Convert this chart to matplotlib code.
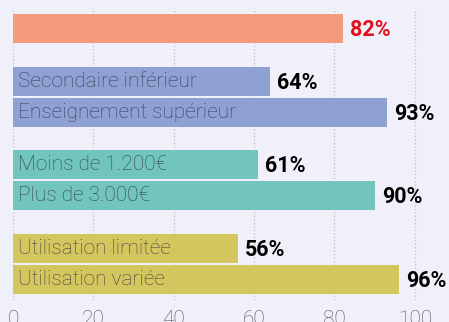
import numpy as np
import matplotlib.pyplot as plt

# groups of bars, top to bottom
labels = [["Ensemble"],
          ["Secondaire inférieur", "Enseignement supérieur"],
          ["Moins de 1.200€", "Plus de 3.000€"],
          ["Utilisation limitée", "Utilisation variée"]]
values = [[82],
          [64, 93],
          [61, 90],
          [56, 96]]
show_name = [False, True, True, True]
group_colors = ["#f39a7b", "#8fa0d3", "#72c5bd", "#d4c65f"]
ticks = [0, 20, 40, 60, 80, 100]

bg = "#f0f0fa"
fig = plt.figure(figsize=(4.49, 3.22), dpi=100, facecolor=bg)
ax = fig.add_axes([13/449, 22/322, 1 - 13/449, 292/322], facecolor=bg)

gap = 1.7   # space between group starts, beyond the bars themselves
y = 0.0
for g, (names, vals) in enumerate(zip(labels, values)):
    for name, v in zip(names, vals):
        ax.barh(y, v, height=0.93, color=group_colors[g], zorder=2)
        if show_name[g]:
            ax.text(1.3, y, name, va="center", ha="left", fontsize=15,
                    family="Roboto", fontweight="light", color="#2b2b40",
                    alpha=0.85, zorder=3)
        ax.text(v + 1.8, y + 0.05, f"{v}%", va="center", ha="left", fontsize=15.5,
                family="Roboto", fontweight="bold",
                color="#e3101c" if g == 0 else "black", zorder=3)
        y += 1
    y += gap - 1

ax.set_xlim(0, 108.5)
ax.set_ylim(8.76, -0.66)
ax.set_xticks(ticks)
ax.set_yticks([])
ax.tick_params(axis="x", length=0, pad=7, labelsize=15, labelcolor="#555555")
for lab in ax.get_xticklabels():
    lab.set_family("Roboto")
    lab.set_fontweight("light")
ax.grid(axis="x", linestyle=(0, (1, 1.5)), color="#c4c4cc", linewidth=1, zorder=0)
for s in ax.spines.values():
    s.set_visible(False)

fig.savefig("out.png", dpi=100, facecolor=bg)
